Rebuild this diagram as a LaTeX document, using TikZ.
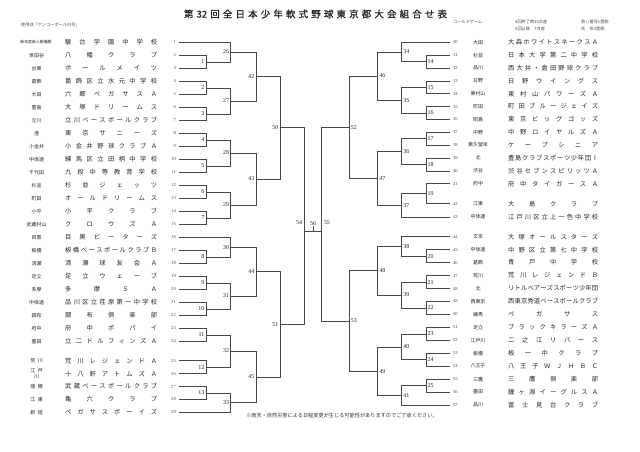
\documentclass[tikz,border=0pt]{standalone}
\usepackage{fontspec}
\setmainfont{Liberation Serif}
\newfontfamily\jp{Noto Sans CJK JP}
\newfontfamily\jpb[FakeBold=1]{Noto Sans CJK JP}
\usetikzlibrary{calc}
\makeatletter
\def\spr#1{\spr@a#1\relax}
\def\spr@a#1{#1\spr@b}
\def\spr@b#1{\ifx\relax#1\else\hfill#1\expandafter\spr@b\fi}
\makeatother
\newcommand\tmL[1]{\makebox[92bp][s]{\expandafter\spr\expandafter{#1}}}
\newcommand\tmR[1]{\makebox[90bp][s]{\expandafter\spr\expandafter{#1}}}
\tikzset{
  bline/.style={draw=black!72, line width=0.55bp},
  slotnum/.style={font=\fontsize{4.6}{5}\selectfont, text=black!70, inner sep=0pt},
  mlab/.style={font=\fontsize{6}{6}\selectfont, text=black!85, inner sep=1.4bp},
  distr/.style={font=\jp\fontsize{5}{5.6}\selectfont, text=black!85, inner sep=0pt},
  teamn/.style={font=\jp\fontsize{6.3}{6.3}\selectfont, text=black!85, inner sep=0pt},
  tinytxt/.style={font=\jp\fontsize{4.2}{4.2}\selectfont, text=black!70, inner sep=0pt},
}
\newcommand\mt[5]{%
  \draw[bline] (#2) -- (#2 -| #4) -- (#3 -| #4) -- (#3);
  \coordinate (m#1) at ($(#2 -| #4)!0.5!(#3 -| #4)$);
  \node[mlab,#5] (lab#1) at (m#1) {#1};
}
\begin{document}
\begin{tikzpicture}[x=1bp,y=-1bp]
\useasboundingbox (0,0) rectangle (640,452);
\fill[white] (0,0) rectangle (640,452);

% title and header
\node[inner sep=0pt,text=black!85] (ttl) at (315.5,14)
  {\jpb\fontsize{9.5}{9.5}\selectfont\makebox[263bp][s]{第\hfill 32\hfill 回\hfill 全\hfill 日\hfill 本\hfill 少\hfill 年\hfill 軟\hfill 式\hfill 野\hfill 球\hfill 東\hfill 京\hfill 都\hfill 大\hfill 会\hfill 組\hfill 合\hfill せ\hfill 表}};
\node[tinytxt,anchor=west] (hdl) at (21,25) {使用球「ケンコーボールＭ号」};
\node[tinytxt,anchor=west] (hr1) at (453,22) {コールドゲーム};
\node[tinytxt,anchor=west] (hr2) at (515,22) {4回終了時10点差};
\node[tinytxt,anchor=west] (hr3) at (515,28.5) {5回以降　7点差};
\node[tinytxt,anchor=west] (hr4) at (581,22) {若い番号1塁側};
\node[tinytxt,anchor=west] (hr5) at (581,28.5) {先　攻3塁側};

% left teams
\foreach \i/\d/\t in {1//駿台学園中学校,2/世田谷/八幡クラブ,3/台東/ボールメイツ,4/葛飾/葛飾区立水元中学校,5/大田/六郷ペガサスＡ,6/豊島/大塚ドリームス,7/立川/立川ベースボールクラブ,8/港/東京サニーズ,9/小金井/小金井野球クラブＡ,10/中体連/練馬区立田柄中学校,11/千代田/九段中等教育学校,12/杉並/杉並ジェッツ,13/町田/オールドリームス,14/小平/小平クラブ,15/武蔵村山/クロウズＡ,16/目黒/目黒ビーターズ,17/板橋/板橋ベースボールクラブＢ,18/清瀬/清瀬球友会Ａ,19/足立/足立ウェーブ,20/多摩/多摩ＳＡ,21/中体連/品川区立荏原第一中学校,22/調布/調布倶楽部,23/府中/府中ポパイ,24/墨田/立二ドルフィンズＡ,25/荒\enspace 川/荒川レジェンドＡ,26//十八軒アトムズＡ,27/瑞\enspace 穂/武蔵ベースボールクラブ,28/江\enspace 東/亀六クラブ,29/新\enspace 宿/ペガサスボーイズ}{
  \pgfmathsetmacro\yy{\i<=24 ? 42.3+13*(\i-1) : 360.7+12.9*(\i-25)}
  \coordinate (s\i) at (178.5,\yy);
  \node[slotnum,anchor=east] (nl\i) at (176,\yy) {\i};
  \node[distr] (dl\i) at (36.7,\yy) {\d};
  \node[teamn,anchor=west] (tl\i) at (65,\yy) {\tmL{\t}};
}
\node[distr,font=\jp\fontsize{3.9}{3.9}\selectfont] (dl1x) at (36,42.3) {新年度新人戦優勝};
\node[distr,align=center,font=\jp\fontsize{5}{5.4}\selectfont] (dl26x) at (36.7,373.6) {江\enspace 戸\\川};

% right teams
\foreach \i/\d/\t in {30/大田/大森ホワイトスネークスＡ,31/杉並/日本大学第二中学校,32/品川/西大井・倉田野球クラブ,33/日野/日野ウイングス,34/東村山/東村山パワーズＡ,35/町田/町田ブルージェイズ,36/昭島/東京ビッグゴッズ,37/中野/中野ロイヤルズＡ,38/東久留米/ケープシニア,39/北/豊島クラブスポーツ少年団Ⅰ,40/渋谷/渋谷セブンスピリッツＡ,41/府中/府中タイガースＡ,42/江東/大島クラブ,43/中体連/江戸川区立上一色中学校,44/文京/大塚オールスターズ,45/中体連/中野区立第七中学校,46/葛飾/青戸中学校,47/荒川/荒川レジェンドＢ,48/北/リトルベアーズスポーツ少年団,49/西東京/西東京秀道ベースボールクラブ,50/練馬/ペガサス,51/足立/ブラックキラーズＡ,52/江戸川/二之江リバース,53/板橋/板一中クラブ,54/八王子/八王子ＷＪＨＢＣ,55/三鷹/三鷹倶楽部,56/墨田/鐘ヶ淵イーグルスＡ,57/品川/富士見台クラブ}{
  \pgfmathsetmacro\yy{\i<=41 ? 42.3+12.85*(\i-30) : (\i<=43 ? 203.7+13.2*(\i-42) : 236.7+12.95*(\i-44))}
  \coordinate (s\i) at (450,\yy);
  \node[slotnum,anchor=west] (nr\i) at (453,\yy) {\i};
  \node[distr] (dr\i) at (478,\yy) {\d};
  \node[teamn,anchor=west] (tr\i) at (508,\yy) {\tmR{\t}};
}

% level x positions
\coordinate (XL1) at (206,0);
\coordinate (XL2) at (230.7,0);
\coordinate (XL3) at (256,0);
\coordinate (XL4) at (280,0);
\coordinate (XL5) at (304.3,0);
\coordinate (XR1) at (426,0);
\coordinate (XR2) at (401.7,0);
\coordinate (XR3) at (377.7,0);
\coordinate (XR4) at (349.3,0);
\coordinate (XR5) at (321.7,0);

% left bracket
\mt{1}{s2}{s3}{XL1}{left}
\mt{2}{s4}{s5}{XL1}{left}
\mt{3}{s6}{s7}{XL1}{left}
\mt{4}{s8}{s9}{XL1}{left}
\mt{5}{s10}{s11}{XL1}{left}
\mt{6}{s12}{s13}{XL1}{left}
\mt{7}{s14}{s15}{XL1}{left}
\mt{8}{s17}{s18}{XL1}{left}
\mt{9}{s19}{s20}{XL1}{left}
\mt{10}{s21}{s22}{XL1}{left}
\mt{11}{s23}{s24}{XL1}{left}
\mt{12}{s25}{s26}{XL1}{left}
\mt{13}{s27}{s28}{XL1}{left}
\mt{26}{s1}{m1}{XL2}{left}
\mt{27}{m2}{m3}{XL2}{left}
\mt{28}{m4}{m5}{XL2}{left}
\mt{29}{m6}{m7}{XL2}{left}
\mt{30}{s16}{m8}{XL2}{left}
\mt{31}{m9}{m10}{XL2}{left}
\mt{32}{m11}{m12}{XL2}{left}
\mt{33}{m13}{s29}{XL2}{left}
\mt{42}{m26}{m27}{XL3}{left}
\mt{43}{m28}{m29}{XL3}{left}
\mt{44}{m30}{m31}{XL3}{left}
\mt{45}{m32}{m33}{XL3}{left}
\mt{50}{m42}{m43}{XL4}{left}
\mt{51}{m44}{m45}{XL4}{left}

% right bracket
\mt{14}{s31}{s32}{XR1}{right}
\mt{15}{s33}{s34}{XR1}{right}
\mt{16}{s35}{s36}{XR1}{right}
\mt{17}{s37}{s38}{XR1}{right}
\mt{18}{s39}{s40}{XR1}{right}
\mt{19}{s41}{s42}{XR1}{right}
\mt{20}{s45}{s46}{XR1}{right}
\mt{21}{s47}{s48}{XR1}{right}
\mt{22}{s49}{s50}{XR1}{right}
\mt{23}{s51}{s52}{XR1}{right}
\mt{24}{s53}{s54}{XR1}{right}
\mt{25}{s55}{s56}{XR1}{right}
\mt{34}{s30}{m14}{XR2}{right}
\mt{35}{m15}{m16}{XR2}{right}
\mt{36}{m17}{m18}{XR2}{right}
\mt{37}{m19}{s43}{XR2}{right}
\mt{38}{s44}{m20}{XR2}{right}
\mt{39}{m21}{m22}{XR2}{right}
\mt{40}{m23}{m24}{XR2}{right}
\mt{41}{m25}{s57}{XR2}{right}
\mt{46}{m34}{m35}{XR3}{right}
\mt{47}{m36}{m37}{XR3}{right}
\mt{48}{m38}{m39}{XR3}{right}
\mt{49}{m40}{m41}{XR3}{right}
\mt{52}{m46}{m47}{XR4}{right}
\mt{53}{m48}{m49}{XR4}{right}

% semifinals and final
\draw[bline] (m50) -- (m50 -| XL5) -- (m51 -| XL5) -- (m51);
\draw[bline] (m52) -- (m52 -| XR5) -- (m53 -| XR5) -- (m53);
\coordinate (fin) at (313,231);
\draw[bline] (fin -| XL5) -- (fin -| XR5);
\draw[bline] (fin) -- ++(0,-4.5) coordinate (fintop);
\node[mlab,anchor=east] (lab54) at (303.6,223) {54};
\node[mlab,anchor=west] (lab55) at (322.4,223) {55};
\node[mlab,anchor=south,inner sep=0.6bp] (lab56) at (fintop) {56};

% note
\node[font=\jp\fontsize{5.2}{5.2}\selectfont,text=black!80,inner sep=0pt,anchor=west] (note) at (246,415.7) {※雨天・自然災害による日程変更が生じる可能性がありますのでご了承ください。};
\end{tikzpicture}
\end{document}
